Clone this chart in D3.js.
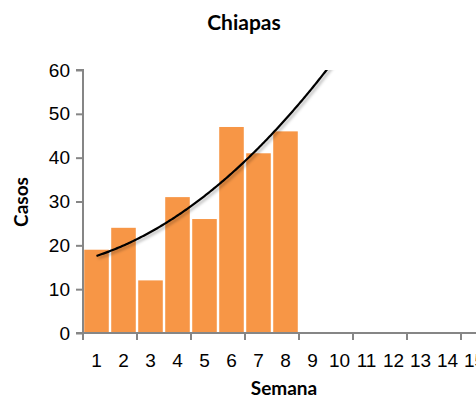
<!DOCTYPE html>
<html>
<head>
<meta charset="utf-8">
<script src="https://cdn.jsdelivr.net/npm/d3@7"></script>
<style>
  body { margin: 0; background: #fff; }
  svg { display: block; font-family: Lato, "Liberation Sans", sans-serif; }
</style>
</head>
<body>
<script>
// semanas (categories) and casos
var semanas = [1, 2, 3, 4, 5, 6, 7, 8, 9, 10, 11, 12, 13, 14, 15];
var casos = [19, 24, 12, 31, 26, 47, 41, 46];
var yTicks = [0, 10, 20, 30, 40, 50, 60];

var width = 476, height = 402;
var margin = {top: 70, left: 83, bottom: 69};
var plotBottom = height - margin.bottom;
var catW = 27;

var svg = d3.select("body").append("svg")
    .attr("width", width)
    .attr("height", height);

var x = d3.scaleBand()
    .domain(semanas)
    .range([margin.left, margin.left + catW * semanas.length])
    .paddingInner(0.09)
    .paddingOuter(0.045);

var y = d3.scaleLinear()
    .domain([0, 60])
    .range([plotBottom, margin.top]);

// bars
svg.selectAll("rect.bar")
    .data(casos)
    .enter()
    .append("rect")
    .attr("class", "bar")
    .attr("x", function(d, i) { return x(semanas[i]); })
    .attr("y", function(d) { return y(d); })
    .attr("width", x.bandwidth())
    .attr("height", function(d) { return plotBottom - y(d); })
    .attr("fill", "#F79646");

// y axis
var yAxis = svg.append("g")
    .attr("transform", "translate(" + margin.left + ",0)")
    .call(d3.axisLeft(y).tickValues(yTicks).tickSize(7).tickPadding(6));

// x axis, tick marks every 2 weeks at the category borders
var xAxis = svg.append("g")
    .attr("transform", "translate(0," + plotBottom + ")")
    .call(d3.axisBottom(x).tickSize(0).tickPadding(21));

var borders = d3.range(0, semanas.length + 1, 2);
xAxis.selectAll("line.border")
    .data(borders)
    .enter()
    .append("line")
    .attr("class", "border")
    .attr("x1", function(d) { return margin.left + d * catW; })
    .attr("x2", function(d) { return margin.left + d * catW; })
    .attr("y1", 0)
    .attr("y2", 7);

svg.selectAll(".domain, .tick line, line.border")
    .attr("stroke", "#868686")
    .attr("stroke-width", 2);
svg.selectAll(".tick text")
    .attr("font-size", "19px")
    .attr("fill", "#000");
xAxis.select(".domain").attr("d", "M" + margin.left + ",0H" + (margin.left + catW * semanas.length));
yAxis.select(".domain").attr("d", "M-7," + margin.top + "H0V" + plotBottom + "H-7");

// polynomial (order 2) trend line, least squares fit of the data
var xs = casos.map(function(d, i) { return i + 1; });
var xm = d3.mean(xs), ym = d3.mean(casos);
var t2m = d3.mean(xs, function(v) { return (v - xm) * (v - xm); });
var sB = 0, sBB = 0, sC = 0, sCC = 0;
xs.forEach(function(v, i) {
    var t = v - xm, q = t * t - t2m;
    sB += t * (casos[i] - ym); sBB += t * t;
    sC += q * (casos[i] - ym); sCC += q * q;
});
var B = sB / sBB, C = sC / sCC;
function trend(v) { var t = v - xm; return ym + B * t + C * (t * t - t2m); }

var xc = function(v) { return margin.left + (v - 0.5) * catW; };
var trendPts = d3.range(1, 11.01, 0.05).map(function(v) { return [xc(v), y(trend(v))]; });

var defs = svg.append("defs");
defs.append("clipPath").attr("id", "plotclip")
    .append("rect")
    .attr("x", margin.left).attr("y", margin.top)
    .attr("width", width).attr("height", plotBottom - margin.top);
defs.append("filter").attr("id", "shadow")
    .attr("x", "-10%").attr("y", "-10%").attr("width", "130%").attr("height", "130%")
    .append("feDropShadow")
    .attr("dx", 2).attr("dy", 2).attr("stdDeviation", 1.5)
    .attr("flood-color", "#000").attr("flood-opacity", 0.3);

svg.append("g")
    .attr("clip-path", "url(#plotclip)")
    .append("path")
    .attr("d", d3.line()(trendPts))
    .attr("fill", "none")
    .attr("stroke", "#000")
    .attr("stroke-width", 2.2)
    .attr("filter", "url(#shadow)");

// titles
svg.append("text")
    .attr("x", 244)
    .attr("y", 30)
    .attr("text-anchor", "middle")
    .attr("font-size", "21px")
    .attr("font-weight", "bold")
    .text("Chiapas");

svg.append("text")
    .attr("transform", "translate(28,202) rotate(-90)")
    .attr("text-anchor", "middle")
    .attr("font-size", "19px")
    .attr("font-weight", "bold")
    .text("Casos");

svg.append("text")
    .attr("x", 284)
    .attr("y", 395)
    .attr("text-anchor", "middle")
    .attr("font-size", "19px")
    .attr("font-weight", "bold")
    .text("Semana");
</script>
</body>
</html>
